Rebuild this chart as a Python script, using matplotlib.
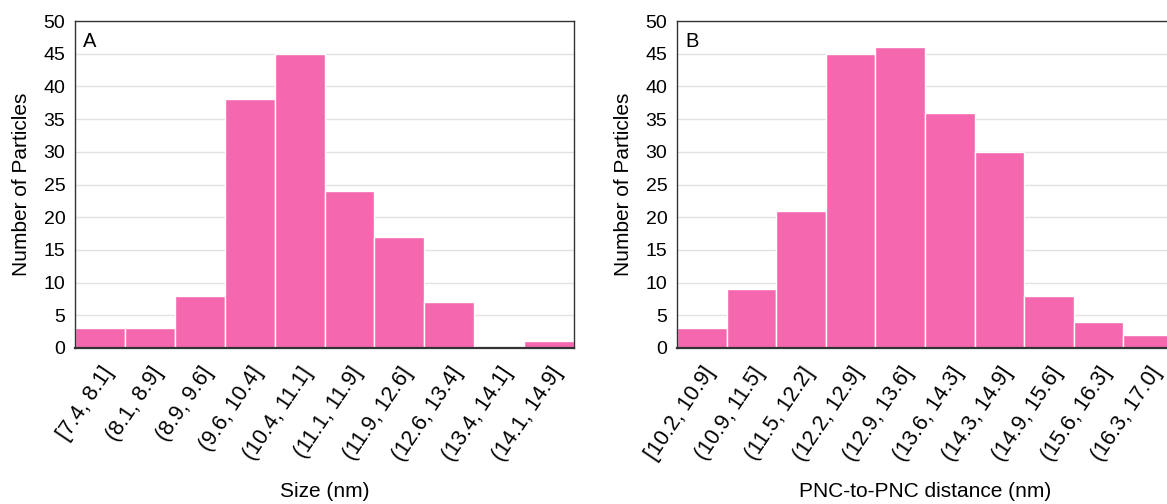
import matplotlib
matplotlib.use("Agg")
import matplotlib.pyplot as plt
from matplotlib.transforms import ScaledTranslation
import numpy as np

# histogram counts
size_bins = ["[7.4, 8.1]", "(8.1, 8.9]", "(8.9, 9.6]", "(9.6, 10.4]", "(10.4, 11.1]",
             "(11.1, 11.9]", "(11.9, 12.6]", "(12.6, 13.4]", "(13.4, 14.1]", "(14.1, 14.9]"]
size_counts = [3, 3, 8, 38, 45, 24, 17, 7, 0, 1]

dist_bins = ["[10.2, 10.9]", "(10.9, 11.5]", "(11.5, 12.2]", "(12.2, 12.9]", "(12.9, 13.6]",
             "(13.6, 14.3]", "(14.3, 14.9]", "(14.9, 15.6]", "(15.6, 16.3]", "(16.3, 17.0]"]
dist_counts = [3, 9, 21, 45, 46, 36, 30, 8, 4, 2]

plt.rcParams['font.family'] = ['Liberation Sans', 'DejaVu Sans']

bar_color = "#f567ae"

fig = plt.figure(figsize=(11.67, 5.04), dpi=100)
W, H = 1167.0, 504.0
ax1 = fig.add_axes([75 / W, (H - 348) / H, 499 / W, 327 / H])
ax2 = fig.add_axes([677 / W, (H - 348) / H, 496 / W, 327 / H])

# shift rotated labels a little to the right of their bars
shift = ScaledTranslation(8 / 100, 0, fig.dpi_scale_trans)


def draw(ax, labels, counts, letter, xlabel):
    x = np.arange(len(counts))
    ax.bar(x, counts, width=1.0, color=bar_color, edgecolor="white", linewidth=1.0, zorder=2)
    ax.set_xlim(-0.5, len(counts) - 0.5)
    ax.set_ylim(0, 50)
    ax.set_yticks(range(0, 51, 5))
    ax.yaxis.grid(True, color="#e2e2e2", linewidth=1.0, zorder=0)
    ax.set_axisbelow(True)
    ax.set_xticks(x)
    ax.set_xticklabels(labels, rotation=56, ha="right", va="top", rotation_mode="anchor", fontsize=15.5)
    for lbl in ax.get_xticklabels():
        lbl.set_transform(lbl.get_transform() + shift)
    ax.tick_params(axis="x", length=0, pad=11)
    ax.tick_params(axis="y", length=0, pad=7, labelsize=14)
    for s in ax.spines.values():
        s.set_color("#333333")
        s.set_linewidth(1.0)
    ax.spines["bottom"].set_linewidth(1.6)
    ax.set_ylabel("Number of Particles", fontsize=15, labelpad=9)
    ax.set_xlabel(xlabel, fontsize=15, labelpad=12)
    ax.text(0.016, 0.965, letter, transform=ax.transAxes, ha="left", va="top", fontsize=14.5)


draw(ax1, size_bins, size_counts, "A", "Size (nm)")
draw(ax2, dist_bins, dist_counts, "B", "PNC-to-PNC distance (nm)")

fig.savefig("out.png", dpi=100)
